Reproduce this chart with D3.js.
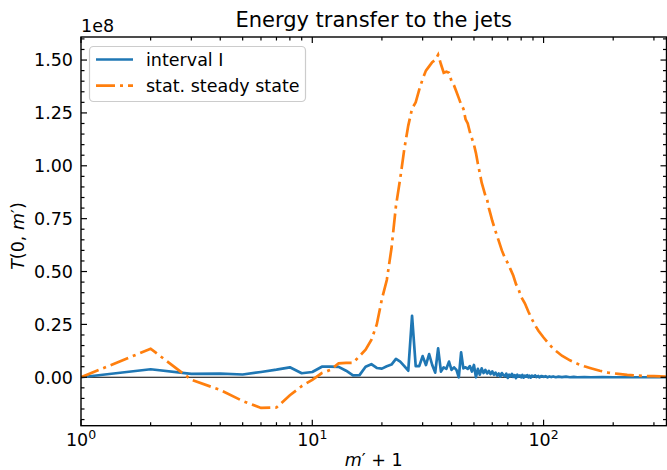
<!DOCTYPE html>
<html>
<head>
<meta charset="utf-8">
<script src="https://cdn.jsdelivr.net/npm/d3@7"></script>
<style>
  html, body { margin: 0; padding: 0; background: #fff; }
  svg { display: block; font-family: "DejaVu Sans", sans-serif; }
</style>
</head>
<body>
<svg id="chart" width="667" height="470"></svg>
<script>
// Energy transfer T(0, m') in units of 1e8, against m' + 1.
const intervalX = [1,2,3,4,5,6,7,8,9,10,11,12,13,14,15,16,17,18,19,20,
  21,22,23,24,25,26,27,28,29,30,31,32,33,34,35,36,37,38,39,40,
  41,42,43,44,45,46,47,48,49,50,51,52,53,54,55,56,57,58,59,60,
  61,62,63,64,65,66,67,68,69,70,71,72,73,74,75,76,77,78,79,80,
  81,82,83,84,85,86,87,88,89,90,92,93,95,96,98,100,102,104,106,108,
  110,113,116,120,125,130,135,140,150,160,180,200,230,260,300,340];
const intervalY = [0,0.038,0.016,0.017,0.013,0.025,0.036,0.047,0.019,0.025,
  0.05,0.05,0.049,0.031,0.009,0.01,0.05,0.062,0.044,0.041,
  0.052,0.06,0.087,0.074,0.053,0.031,0.29,0.053,0.053,0.10,
  0.058,0.11,0.058,0.022,0.137,0.027,0.047,0.040,0.074,0.035,
  0.047,0.035,0.0,0.118,0.042,0.047,0.040,0.053,0.027,0.058,
  0.0,0.04,0.012,0.042,0.02,0.035,0.018,0.03,0.015,0.028,
  0.012,0.022,0.008,0.018,0.003,0.02,0.01,0.005,0.017,-0.003,
  0.012,0.004,0.016,0.002,0.01,-0.004,0.012,0.003,0.009,0.0,
  0.011,-0.002,0.008,0.003,0.01,0.0,0.007,-0.002,0.008,0.003,
  0.009,0.001,0.006,0.0,0.006,0.002,0.005,0.0,0.004,0.001,
  0.004,0.0,0.003,0.001,0.003,0.0,0.002,0.0,0.001,0.0,
  0.001,0.0,0.0,0.0,0.0,0.0];

const steadyX = [1,2,3,4,5,6,7,8,9,10,11,12,13,14,15,16,17,18,19,20,
  21,22,23,24,25,26,27,28,29,30,31,32,33,34,35,36,37,38,39,40,
  41,42,43,44,45,46,47,48,49,50,51,52,53,54,55,56,57,58,59,60,
  62,64,66,68,70,72,74,76,78,80,83,86,89,92,95,100,105,110,115,120,
  130,140,150,160,175,190,210,230,250,275,300,320,340];
const steadyY = [0,0.135,-0.012,-0.06,-0.112,-0.145,-0.143,-0.085,-0.042,-0.012,
  0.02,0.035,0.066,0.068,0.068,0.1,0.13,0.176,0.25,0.37,
  0.46,0.61,0.81,0.94,1.08,1.19,1.27,1.30,1.36,1.41,
  1.45,1.47,1.49,1.50,1.525,1.48,1.44,1.445,1.44,1.40,
  1.38,1.35,1.32,1.29,1.27,1.22,1.20,1.16,1.13,1.10,
  1.06,1.01,0.965,0.92,0.89,0.86,0.84,0.80,0.77,0.74,
  0.69,0.645,0.60,0.565,0.54,0.51,0.48,0.44,0.415,0.38,
  0.35,0.31,0.275,0.245,0.22,0.188,0.16,0.135,0.118,0.102,
  0.08,0.064,0.052,0.043,0.031,0.022,0.016,0.011,0.008,0.006,
  0.005,0.004,0.003];

const seriesNames = ["interval I", "stat. steady state"];
const seriesColors = ["#1f77b4", "#ff7f0e"];
const xTickExps = [0, 1, 2];
const yTickLabels = ["0.00","0.25","0.50","0.75","1.00","1.25","1.50"];

const L = 81, R = 666.5, T = 37, B = 425.7;
const svg = d3.select("#chart");

const x = d3.scaleLog().domain([1, 340]).range([L, R]);
const y = d3.scaleLinear().domain([-0.229, 1.609]).range([B, T]);

svg.append("defs").append("clipPath").attr("id", "plotclip")
  .append("rect").attr("x", L).attr("y", T).attr("width", R - L).attr("height", B - T);

const plot = svg.append("g").attr("clip-path", "url(#plotclip)");

// zero reference line
plot.append("line")
  .attr("x1", L).attr("x2", R).attr("y1", y(0)).attr("y2", y(0))
  .attr("stroke", "#000").attr("stroke-width", 1.1);

const line = d3.line().x(d => x(d[0])).y(d => y(d[1]));

plot.append("path")
  .datum(d3.zip(intervalX, intervalY))
  .attr("d", line).attr("fill", "none")
  .attr("stroke", seriesColors[0]).attr("stroke-width", 2.7)
  .attr("stroke-linejoin", "round");

plot.append("path")
  .datum(d3.zip(steadyX, steadyY))
  .attr("d", line).attr("fill", "none")
  .attr("stroke", seriesColors[1]).attr("stroke-width", 2.7)
  .attr("stroke-dasharray", "19,5,3,5");

// axes: inward ticks on all four sides
const xMajor = xTickExps.map(e => Math.pow(10, e));
const xMinor = [];
for (let e = 0; e < 3; e++) for (let m = 2; m <= 9; m++) {
  const v = m * Math.pow(10, e);
  if (v <= 340) xMinor.push(v);
}
const yMajor = yTickLabels.map(Number);
const yMinor = d3.range(-20, 161, 5).map(v => v / 100).filter(v => yMajor.indexOf(v) < 0);

const axes = svg.append("g").attr("stroke", "#000");
function ticksX(vals, yy, len, dir) {
  axes.selectAll(null).data(vals).enter().append("line")
    .attr("x1", d => x(d)).attr("x2", d => x(d))
    .attr("y1", yy).attr("y2", yy + dir * len).attr("stroke-width", 1.2);
}
function ticksY(vals, xx, len, dir) {
  axes.selectAll(null).data(vals).enter().append("line")
    .attr("y1", d => y(d)).attr("y2", d => y(d))
    .attr("x1", xx).attr("x2", xx + dir * len).attr("stroke-width", 1.2);
}
ticksX(xMajor, B, 6, -1); ticksX(xMinor, B, 3.5, -1);
ticksX(xMajor, T, 6, 1);  ticksX(xMinor, T, 3.5, 1);
ticksY(yMajor, L, 6, 1);  ticksY(yMinor, L, 3.5, 1);
ticksY(yMajor, R, 6, -1); ticksY(yMinor, R, 3.5, -1);

svg.append("rect").attr("x", L).attr("y", T).attr("width", R - L).attr("height", B - T)
  .attr("fill", "none").attr("stroke", "#000").attr("stroke-width", 1.4);

// tick labels
const fs = 17.5;
xTickExps.forEach(e => {
  const t = svg.append("text").attr("x", x(Math.pow(10, e))).attr("y", 446)
    .attr("text-anchor", "middle").attr("font-size", fs).attr("fill", "#000");
  t.append("tspan").text("10");
  t.append("tspan").attr("font-size", 12.5).attr("dy", -7.5).text(String(e));
});
yTickLabels.forEach(s => {
  svg.append("text").attr("x", 73).attr("y", y(+s)).attr("dy", "0.36em")
    .attr("text-anchor", "end").attr("font-size", fs).attr("fill", "#000").text(s);
});
svg.append("text").attr("x", 81).attr("y", 32).attr("font-size", fs).text("1e8");

// title and axis labels
svg.append("text").attr("x", (L + R) / 2).attr("y", 27).attr("text-anchor", "middle")
  .attr("font-size", 21).text("Energy transfer to the jets");

const xl = svg.append("text").attr("x", (L + R) / 2).attr("y", 466)
  .attr("text-anchor", "middle").attr("font-size", fs);
xl.append("tspan").attr("font-style", "italic").text("m");
xl.append("tspan").text("\u2032 + 1");

const yl = svg.append("text").attr("transform", "translate(24,236) rotate(-90)")
  .attr("text-anchor", "middle").attr("font-size", fs);
yl.append("tspan").attr("font-style", "italic").text("T");
yl.append("tspan").text("(0, ");
yl.append("tspan").attr("font-style", "italic").text("m");
yl.append("tspan").text("\u2032)");

// legend
const lg = svg.append("g");
lg.append("rect").attr("x", 89.5).attr("y", 46.5).attr("width", 216).attr("height", 55)
  .attr("rx", 4).attr("fill", "#fff").attr("fill-opacity", 0.8)
  .attr("stroke", "#cccccc").attr("stroke-width", 1.2);
seriesNames.forEach((name, i) => {
  const cy = 59.5 + i * 26.2;
  const ln = lg.append("line").attr("x1", 96).attr("x2", 133).attr("y1", cy).attr("y2", cy)
    .attr("stroke", seriesColors[i]).attr("stroke-width", 2.7);
  if (i === 1) ln.attr("stroke-dasharray", "19,5,3,5");
  lg.append("text").attr("x", 146).attr("y", cy).attr("dy", "0.36em")
    .attr("font-size", fs).text(name);
});
</script>
</body>
</html>
